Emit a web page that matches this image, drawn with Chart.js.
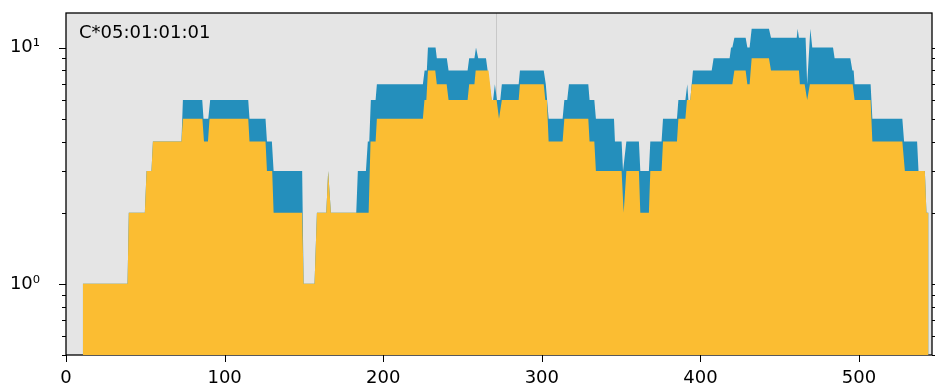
<!DOCTYPE html>
<html>
<head>
<meta charset="utf-8">
<script src="https://cdn.jsdelivr.net/npm/chart.js@4.4.1/dist/chart.umd.min.js"></script>
<style>
    html, body { margin: 0; padding: 0; background: #ffffff; }
</style>
</head>
<body>
<canvas id="wykres" width="935" height="389"></canvas>
<script>
// opis w rogu wykresu
const etykieta = 'C*05:01:01:01';

// osie
const xTicks = [0, 100, 200, 300, 400, 500];
const yTicks = [1, 10];
const yMinorTicks = [0.5, 0.6, 0.7, 0.8, 0.9, 2, 3, 4, 5, 6, 7, 8, 9];
const markerX = 271;

// seria zolta (nizsza)
const yellowX = [10.6, 38.8, 39.6, 49.7, 50.8, 53.9, 54.8, 72.8, 73.7, 86,
    87, 89.5, 90.5, 114.9, 115.7, 125.8, 126.7, 130, 130.9, 148.9,
    149.8, 156.7, 158.2, 164.1, 165.3, 167, 190.8, 192, 195.2, 196,
    225, 226, 227.2, 228.2, 232.8, 233.8, 240, 241.2, 253.2, 254.2,
    257.5, 258.3, 266.4, 268.5, 271.5, 273, 274.8, 285.4, 286.2, 301.2,
    302.2, 303.2, 304.3, 313.1, 314.2, 329.3, 330.1, 333.1, 334.1, 350.3,
    351.6, 353.3, 361.2, 362.1, 367.5, 368.4, 375.5, 376.4, 385.2, 386.1,
    390.5, 391.5, 393.6, 394.5, 420.1, 421.4, 428.5, 429.6, 431, 432.3,
    443.2, 444.5, 462.1, 462.7, 465.7, 467.3, 469, 496, 497.2, 507.3,
    508.4, 527.3, 528.9, 541.5, 542.5, 543.8];
const yellowY = [1, 1, 2, 2, 3, 3, 4, 4, 5, 5,
    4, 4, 5, 5, 4, 4, 3, 3, 2, 2,
    1, 1, 2, 2, 3, 2, 2, 4, 4, 5,
    5, 6, 6, 8, 8, 7, 7, 6, 6, 7,
    7, 8, 8, 6, 6, 5, 6, 6, 7, 7,
    6, 6, 4, 4, 5, 5, 4, 4, 3, 3,
    2, 3, 3, 2, 2, 3, 3, 4, 4, 5,
    5, 6, 6, 7, 7, 8, 8, 7, 7, 9,
    9, 8, 8, 7, 7, 6, 7, 7, 6, 6,
    4, 4, 3, 3, 2, 2];

// seria niebieska (wyzsza)
const blueX = [10.6, 38.8, 39.6, 49.7, 50.8, 53.9, 54.8, 72.8, 73.7, 85.9,
    86.7, 89.7, 90.9, 114.9, 115.7, 125.8, 126.7, 129.8, 130.9, 148.9,
    149.8, 156.7, 158.2, 164.1, 165.3, 167, 183, 184, 189.1, 190.3,
    191.2, 192.2, 195.2, 196, 225, 226.1, 227.5, 228.2, 233, 233.8,
    240.1, 241.2, 253.2, 254.2, 257.5, 258.5, 259.9, 264.8, 268.3, 269.3,
    270.4, 271.7, 273.8, 274.8, 285.4, 286.2, 301.2, 302.5, 304.3, 313.1,
    314.2, 316, 317.1, 329.3, 330.1, 333.1, 334.1, 345.5, 346.1, 350.3,
    351.2, 353.3, 361.2, 362.1, 367.5, 368.4, 375.5, 376.4, 385.2, 386.1,
    390.5, 391.7, 392.4, 393.6, 395.3, 407.1, 408.3, 418.4, 419.3, 420.1,
    421.4, 428.5, 429.6, 431, 432.3, 443.2, 444.5, 460.7, 461.3, 462.1,
    466.3, 467.3, 469.3, 470.5, 483.6, 484.6, 494.5, 495.8, 496.6, 497.2,
    507.3, 508.4, 527.3, 528.4, 536.6, 537.5, 541.5, 542.5, 543.8];
const blueY = [1, 1, 2, 2, 3, 3, 4, 4, 6, 6,
    5, 5, 6, 6, 5, 5, 4, 4, 3, 3,
    1, 1, 2, 2, 3, 2, 2, 3, 3, 4,
    4, 6, 6, 7, 7, 8, 8, 10, 10, 9,
    9, 8, 8, 9, 9, 10, 9, 9, 6, 6,
    7, 6, 6, 7, 7, 8, 8, 7, 5, 5,
    6, 6, 7, 7, 6, 6, 5, 5, 4, 4,
    3, 4, 4, 3, 3, 4, 4, 5, 5, 6,
    6, 7, 6, 6, 8, 8, 9, 9, 10, 10,
    11, 11, 10, 10, 12, 12, 11, 11, 12, 11,
    11, 7, 12, 10, 10, 9, 9, 8, 8, 7,
    7, 5, 5, 4, 4, 3, 3, 2, 2];

const punkty = (xs, ys) => xs.map((x, i) => ({ x: x, y: ys[i] }));

const potegi = '⁰¹²³⁴⁵⁶⁷⁸⁹';
function etykietaPotegi(v) {
    const wykl = Math.round(Math.log10(v));
    return '10' + String(wykl).split('').map(c => potegi[+c]).join('');
}

const czcionka = { family: 'DejaVu Sans', size: 18 };

// tlo, linia pomocnicza, ramka, znaczniki osi i opis
const dodatki = {
    id: 'dodatki',
    beforeDatasetsDraw(chart) {
        const { ctx, chartArea: a, scales } = chart;
        ctx.save();
        ctx.fillStyle = '#e5e5e5';
        ctx.fillRect(a.left, a.top, a.right - a.left, a.bottom - a.top);

        const mx = Math.round(scales.x.getPixelForValue(markerX)) + 0.5;
        ctx.strokeStyle = '#c8c8c8';
        ctx.lineWidth = 1;
        ctx.beginPath();
        ctx.moveTo(mx, a.top);
        ctx.lineTo(mx, a.bottom);
        ctx.stroke();

        ctx.strokeStyle = '#000000';
        ctx.lineWidth = 1.3;
        ctx.strokeRect(a.left, a.top, a.right - a.left, a.bottom - a.top);
        ctx.restore();
    },
    afterDatasetsDraw(chart) {
        const { ctx, chartArea: a, scales } = chart;
        ctx.save();
        ctx.strokeStyle = '#000000';
        ctx.lineWidth = 1;
        ctx.beginPath();
        yTicks.concat(yMinorTicks).forEach(v => {
            const dl = yTicks.includes(v) ? 7 : 4;
            const py = Math.round(scales.y.getPixelForValue(v)) + 0.5;
            ctx.moveTo(a.left - dl, py);
            ctx.lineTo(a.left, py);
            ctx.moveTo(a.right, py);
            ctx.lineTo(a.right + dl, py);
        });
        xTicks.forEach(v => {
            const px = Math.round(scales.x.getPixelForValue(v)) + 0.5;
            ctx.moveTo(px, a.bottom);
            ctx.lineTo(px, a.bottom + 7);
        });
        ctx.stroke();

        ctx.fillStyle = '#000000';
        ctx.font = '18px "DejaVu Sans"';
        ctx.textBaseline = 'alphabetic';
        ctx.fillText(etykieta, a.left + 13, a.top + 24.5);
        ctx.restore();
    }
};

const ctx = document.getElementById('wykres').getContext('2d');
new Chart(ctx, {
    type: 'line',
    data: {
        datasets: [
            {
                label: 'yellow',
                data: punkty(yellowX, yellowY),
                backgroundColor: '#fbbd32',
                borderColor: '#fbbd32',
                borderWidth: 0,
                pointRadius: 0,
                tension: 0,
                fill: 'start'
            },
            {
                label: 'blue',
                data: punkty(blueX, blueY),
                backgroundColor: '#248fbc',
                borderColor: '#248fbc',
                borderWidth: 0,
                pointRadius: 0,
                tension: 0,
                fill: 'start'
            }
        ]
    },
    options: {
        responsive: false,
        animation: false,
        layout: { padding: { top: 13, right: 3, left: 0, bottom: 0 } },
        plugins: {
            legend: { display: false },
            tooltip: { enabled: false }
        },
        scales: {
            x: {
                type: 'linear',
                min: 0,
                max: 546,
                grid: { display: false },
                border: { display: false },
                afterBuildTicks: s => { s.ticks = xTicks.map(v => ({ value: v })); },
                afterFit: s => {
                    s.height = 34;
                    s.paddingLeft = 0;
                    s.paddingRight = 0;
                },
                ticks: {
                    font: czcionka,
                    color: '#000000',
                    padding: 5,
                    maxRotation: 0,
                    autoSkip: false
                }
            },
            y: {
                type: 'logarithmic',
                min: 0.5,
                max: 14,
                grid: { display: false },
                border: { display: false },
                afterBuildTicks: s => { s.ticks = yTicks.map(v => ({ value: v })); },
                afterFit: s => {
                    s.width = 66;
                    s.paddingTop = 0;
                    s.paddingBottom = 0;
                },
                ticks: {
                    font: czcionka,
                    color: '#000000',
                    padding: 18,
                    callback: v => etykietaPotegi(v)
                }
            }
        }
    },
    plugins: [dodatki]
});
</script>
</body>
</html>
